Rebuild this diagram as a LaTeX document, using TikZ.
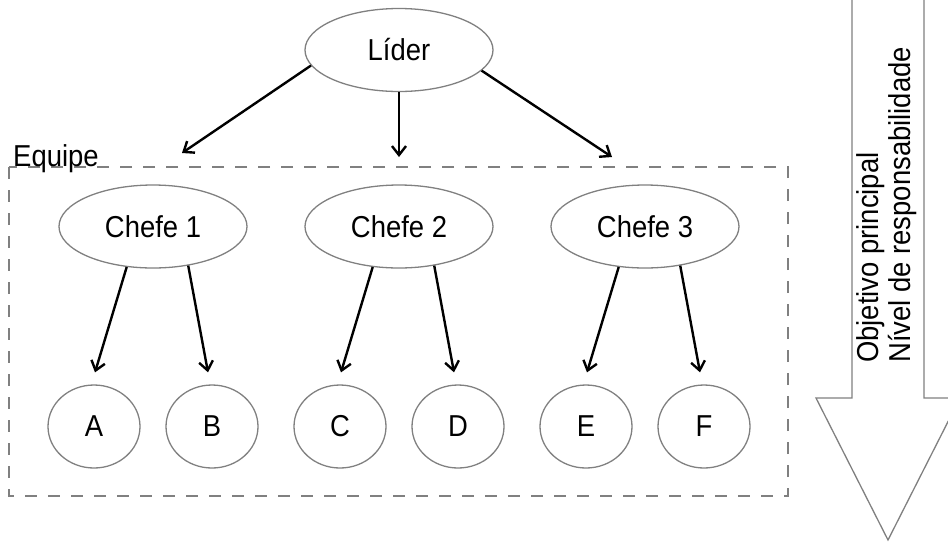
\documentclass[tikz,border=0pt]{standalone}
\usepackage{fontspec}
\setmainfont{Liberation Sans}
\usetikzlibrary{shapes.geometric,arrows.meta}
\definecolor{edgegray}{RGB}{128,128,128}
\newcommand\stretchtx[1]{\scalebox{0.98}[1.08]{#1}}
\begin{document}
\begin{tikzpicture}[x=1pt,y=-1pt,
  font=\fontsize{28}{32}\selectfont,
  bigoval/.style={ellipse,draw=edgegray,line width=1.3pt,minimum width=188pt,minimum height=83pt,inner sep=0pt},
  smalloval/.style={ellipse,draw=edgegray,line width=1.3pt,minimum width=92pt,minimum height=83pt,inner sep=0pt},
  arr/.style={line width=2.4pt,-{Straight Barb[length=9pt,width=14pt]}},
  dashbox/.style={draw=edgegray,line width=2.6pt,dash pattern=on 12pt off 11pt},
  bigarrow/.style={draw=edgegray,line width=1.3pt}]
\useasboundingbox (0,0) rectangle (948,542);
\clip (0,0) rectangle (948,542);
% big arrow
\draw[bigarrow] (852,-5) -- (852,398) -- (816,398) -- (888,540) -- (960,398) -- (924,398) -- (924,-5);
\node[rotate=90,anchor=base west,inner sep=0pt] (side1) at (878,363) {\stretchtx{Objetivo principal}};
\node[rotate=90,anchor=base west,inner sep=0pt] (side2) at (910,363) {\stretchtx{Nível de responsabilidade}};
% team box
\draw[dashbox] (9,167) rectangle (788,496);
\node[anchor=base west,inner sep=0pt] (equipe) at (13,166) {\stretchtx{Equipe}};
% nodes
\node[bigoval] (lider) at (399,50) {\stretchtx{Líder}};
\node[bigoval] (c1) at (153,226.5) {\stretchtx{Chefe 1}};
\node[bigoval] (c2) at (399,226.5) {\stretchtx{Chefe 2}};
\node[bigoval] (c3) at (645,226.5) {\stretchtx{Chefe 3}};
\node[smalloval] (a) at (94,426.5) {\stretchtx{A}};
\node[smalloval] (b) at (212,426.5) {\stretchtx{B}};
\node[smalloval] (c) at (340,426.5) {\stretchtx{C}};
\node[smalloval] (d) at (458,426.5) {\stretchtx{D}};
\node[smalloval] (e) at (586,426.5) {\stretchtx{E}};
\node[smalloval] (f) at (704,426.5) {\stretchtx{F}};
% tips
\coordinate (t1) at (182,153);
\coordinate (t2) at (399,157);
\coordinate (t3) at (612,157);
% connectors
\draw[arr] (lider.190) -- (t1);
\draw[arr] (lider.south) -- (t2);
\draw[arr] (lider.346) -- (t3);
\draw[arr] (c1.237) -- ([xshift=1pt,yshift=12pt]a.north);
\draw[arr] (c1.312) -- ([xshift=-4pt,yshift=12pt]b.north);
\draw[arr] (c2.237) -- ([xshift=1pt,yshift=12pt]c.north);
\draw[arr] (c2.312) -- ([xshift=-4pt,yshift=12pt]d.north);
\draw[arr] (c3.237) -- ([xshift=1pt,yshift=12pt]e.north);
\draw[arr] (c3.312) -- ([xshift=-4pt,yshift=12pt]f.north);
\end{tikzpicture}
\end{document}
